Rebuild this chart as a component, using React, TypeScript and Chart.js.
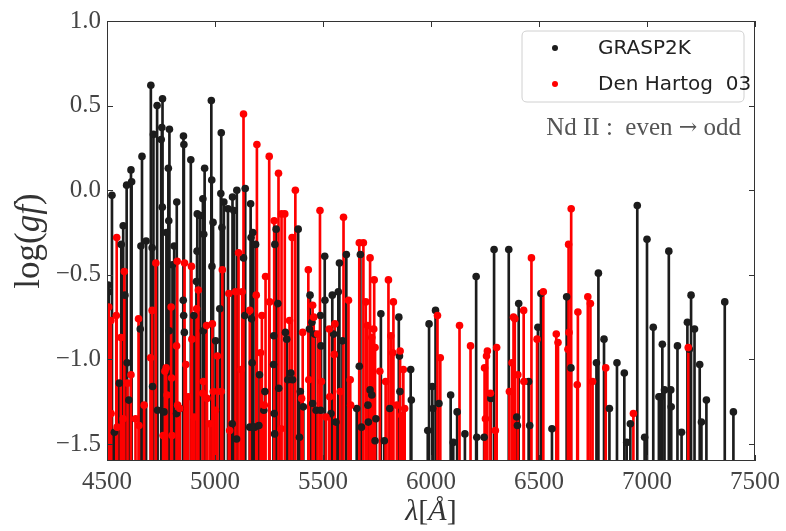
import { useEffect, useRef } from 'react';
import { Chart, registerables } from 'chart.js';

Chart.register(...registerables);

const X_MIN = 4500;
const X_MAX = 7500;
const Y_MIN = -1.6;
const Y_MAX = 1.0;
const xTickValues = [4500, 5000, 5500, 6000, 6500, 7000, 7500];
const yTickValues = [-1.5, -1.0, -0.5, 0.0, 0.5, 1.0];
const seriesLabels = ['GRASP2K', 'Den Hartog  03'];
const annotationParts = ['Nd II :  even ', '\u2192', ' odd'];

const graspWavelength = [
  4505, 4508, 4523, 4534, 4557, 4566, 4575, 4583, 4591, 4593, 4601, 4611, 4614, 4654, 4657, 4662,
  4681, 4703, 4709, 4711, 4715, 4732, 4734, 4751, 4754, 4756, 4757, 4764, 4775, 4784, 4786, 4788,
  4789, 4803, 4811, 4822, 4823, 4838, 4853, 4854, 4855, 4856, 4858, 4888, 4902, 4914, 4917, 4918,
  4931, 4944, 4946, 4948, 4952, 4983, 4985, 4986, 4991, 5003, 5022, 5027, 5029, 5032, 5041, 5060,
  5080, 5081, 5087, 5100, 5101, 5132, 5138, 5140, 5161, 5165, 5167, 5169, 5172, 5175, 5177, 5184,
  5188, 5203, 5206, 5226, 5231, 5271, 5272, 5274, 5276, 5277, 5283, 5291, 5295, 5326, 5332, 5337,
  5351, 5359, 5385, 5391, 5395, 5409, 5437, 5440, 5449, 5452, 5461, 5468, 5488, 5489, 5491, 5508,
  5509, 5537, 5543, 5549, 5560, 5571, 5576, 5590, 5608, 5656, 5668, 5673, 5678, 5708, 5710, 5718,
  5726, 5741, 5745, 5768, 5784, 5809, 5851, 5854, 5856, 5906, 5909, 5985, 5991, 6006, 6008, 6021,
  6037, 6091, 6103, 6121, 6157, 6209, 6212, 6246, 6277, 6292, 6360, 6397, 6400, 6406, 6452, 6457,
  6495, 6509, 6560, 6628, 6648, 6766, 6775, 6801, 6826, 6861, 6895, 6906, 6923, 6955, 6989, 7000,
  7029, 7055, 7064, 7071, 7081, 7101, 7110, 7112, 7141, 7160, 7187, 7196, 7204, 7220, 7244, 7252,
  7275, 7360, 7400,
];
const graspLogGf = [
  -0.56, -0.6, -0.03, -1.43, -1.14, -0.32, -0.21, -0.62, 0.03, -1.02, -1.24, 0.12, 0.05, -0.82, -0.33, 0.2,
  -0.3, 0.62, -0.34, -1.16, 0.33, 0.5, -1.3, 0.3, 0.37, -0.1, 0.54, -1.31, -0.25, 0.13, -0.18, -0.83,
  0.36, -0.44, -0.33, -1.32, -0.07, -1.29, -0.65, 0.32, -0.74, 0.27, -0.84, 0.18, -0.74, -0.54, -0.36, -0.14,
  -0.15, -0.05, -0.83, -0.26, 0.13, 0.53, 0.06, -0.45, -0.19, -0.89, -0.7, -0.02, 0.34, -0.22, -0.07, -0.11,
  -1.38, -0.04, -0.12, -1.47, 0.0, -0.4, -0.74, 0.01, -1.4, -0.08, -0.28, -0.76, -1.02, -0.25, -1.4, -1.4,
  -0.32, -1.39, -1.09, -1.3, -1.19, -1.03, -0.86, -1.32, -1.44, -0.32, -0.23, -0.67, -1.17, -0.84, -0.88, -1.12,
  -1.08, -1.12, -0.23, -1.46, -1.19, -1.28, -0.82, -0.62, -0.78, -1.26, -0.85, -1.3, -0.74, -1.3, -0.92, -0.39,
  -0.65, -1.32, -0.62, -0.85, -1.37, -0.6, -0.43, -0.89, -0.38, -1.29, -1.04, -0.38, -1.4, -1.27, -1.37, -1.18,
  -1.21, -1.48, -1.35, -0.73, -1.48, -1.29, -0.75, -0.98, -1.19, -1.06, -1.24, -1.42, -0.79, -1.16, -1.29, -0.71,
  -1.26, -1.21, -1.49, -1.31, -1.44, -0.51, -1.46, -1.46, -1.23, -0.35, -0.35, -1.34, -1.39, -0.67, -1.13, -1.39,
  -0.81, -0.61, -1.41, -0.63, -1.05, -1.02, -0.49, -0.88, -1.29, -1.02, -1.08, -1.49, -1.38, -0.09, -1.46, -0.29,
  -0.81, -1.22, -1.22, -0.91, -1.18, -0.36, -1.18, -1.28, -0.92, -1.43, -0.78, -0.94, -0.62, -0.82, -1.03, -1.37,
  -1.24, -0.66, -1.31,
];

const hartogWavelength = [
  4508, 4518, 4519, 4543, 4545, 4547, 4564, 4575, 4580, 4595, 4611, 4632, 4646, 4648, 4672, 4702,
  4709, 4726, 4760, 4768, 4774, 4778, 4797, 4799, 4801, 4822, 4825, 4827, 4837, 4859, 4865, 4876,
  4891, 4893, 4903, 4915, 4923, 4943, 4946, 4961, 4963, 4975, 4988, 4992, 5002, 5011, 5029, 5034,
  5064, 5068, 5095, 5109, 5121, 5126, 5132, 5161, 5191, 5194, 5211, 5217, 5228, 5234, 5251, 5253,
  5274, 5294, 5306, 5308, 5323, 5345, 5357, 5372, 5401, 5406, 5432, 5434, 5452, 5457, 5475, 5486,
  5493, 5514, 5529, 5531, 5552, 5555, 5580, 5595, 5618, 5626, 5628, 5668, 5687, 5698, 5706, 5718,
  5726, 5735, 5737, 5741, 5763, 5790, 5803, 5814, 5823, 5826, 5842, 5857, 5864, 5872, 5878, 6030,
  6043, 6132, 6183, 6248, 6252, 6257, 6261, 6275, 6298, 6304, 6363, 6375, 6382, 6388, 6402, 6429,
  6430, 6465, 6491, 6520, 6580, 6588, 6634, 6637, 6639, 6649, 6677, 6680, 6726, 6738, 6748, 6809,
  6937, 7191,
];
const hartogLogGf = [
  -0.69, -0.77, -1.32, -0.74, -0.28, -1.4, -0.87, -1.35, -0.48, -1.14, -1.09, -1.35, -0.76, -1.39, -1.27, -0.99,
  -0.71, -0.43, -1.45, -1.07, -1.05, -1.21, -0.69, -1.11, -1.45, -0.92, -0.42, -1.27, -1.29, -0.43, -1.03, -1.22,
  -0.45, -0.88, -1.34, -0.7, -0.59, -1.2, -1.13, -0.8, -1.23, -1.38, -0.79, -1.19, -1.3, -0.98, -1.19, -0.47,
  -0.61, -1.42, -0.6, -0.37, -1.06, -0.6, 0.45, -0.71, -0.62, 0.27, -0.96, -0.74, -1.27, -0.51, 0.2, -0.66,
  -0.18, 0.1, -1.41, -0.14, -0.14, -0.77, -0.28, 0.0, -1.23, -0.84, -0.47, -1.12, -0.68, -0.75, -0.85, -0.12,
  -1.13, -1.34, -0.82, -1.22, -0.97, -0.79, -1.19, -0.16, -0.65, -1.12, -1.27, -0.31, -0.31, -0.66, -0.8, -0.4,
  -0.87, -0.82, -0.53, -0.93, -1.07, -1.13, -0.53, -0.86, -0.96, -0.66, -1.27, -0.95, -1.33, -1.06, -1.29, -0.74,
  -0.99, -0.8, -0.92, -1.05, -1.35, -0.98, -0.95, -1.2, -1.42, -0.93, -1.19, -1.02, -0.75, -0.76, -1.09, -0.71,
  -1.13, -0.4, -0.88, -0.6, -0.85, -0.9, -0.94, -0.32, -0.84, -0.11, -1.15, -0.72, -0.63, -0.67, -1.13, -1.05,
  -1.32, -0.93,
];

const BLACK = '#1c1c1c';
const RED = '#ff0000';
const SERIF = '"Liberation Serif", "DejaVu Serif", serif';
const SANS = '"DejaVu Sans", sans-serif';

type Part = { text: string; italic?: boolean; family?: string; size?: number };

function drawParts(
  ctx: CanvasRenderingContext2D,
  parts: Part[],
  size: number,
  x0: number,
  cy: number,
  align: 'center' | 'right' = 'center'
) {
  const fontFor = (p: Part) => `${p.italic ? 'italic ' : ''}${p.size ?? size}px ${p.family ?? SERIF}`;
  let total = 0;
  const widths = parts.map((p) => {
    ctx.font = fontFor(p);
    const w = ctx.measureText(p.text).width;
    total += w;
    return w;
  });
  let x = align === 'center' ? x0 - total / 2 : x0 - total;
  ctx.textAlign = 'left';
  ctx.textBaseline = 'middle';
  parts.forEach((p, i) => {
    ctx.font = fontFor(p);
    ctx.fillText(p.text, x, cy);
    x += widths[i];
  });
}

const decorPlugin = {
  id: 'decor',
  afterDraw(chart: any) {
    const { ctx, chartArea, scales } = chart;
    const { left, right, top, bottom } = chartArea;
    ctx.save();
    // frame
    ctx.strokeStyle = '#333333';
    ctx.lineWidth = 1;
    ctx.strokeRect(Math.round(left) + 0.5, Math.round(top) + 0.5, Math.round(right - left) - 1, Math.round(bottom - top) - 1);
    // inward ticks
    const tl = 6;
    ctx.beginPath();
    xTickValues.forEach((v) => {
      const px = Math.round(scales.x.getPixelForValue(v)) + 0.5;
      ctx.moveTo(px, bottom);
      ctx.lineTo(px, bottom - tl);
      ctx.moveTo(px, top);
      ctx.lineTo(px, top + tl);
    });
    yTickValues.forEach((v) => {
      const py = Math.round(scales.y.getPixelForValue(v)) + 0.5;
      ctx.moveTo(left, py);
      ctx.lineTo(left + tl, py);
      ctx.moveTo(right, py);
      ctx.lineTo(right - tl, py);
    });
    ctx.stroke();

    // legend box
    const bx = 522, by = 31, bw = 222, bh = 71, r = 5;
    ctx.beginPath();
    ctx.moveTo(bx + r, by);
    ctx.lineTo(bx + bw - r, by);
    ctx.quadraticCurveTo(bx + bw, by, bx + bw, by + r);
    ctx.lineTo(bx + bw, by + bh - r);
    ctx.quadraticCurveTo(bx + bw, by + bh, bx + bw - r, by + bh);
    ctx.lineTo(bx + r, by + bh);
    ctx.quadraticCurveTo(bx, by + bh, bx, by + bh - r);
    ctx.lineTo(bx, by + r);
    ctx.quadraticCurveTo(bx, by, bx + r, by);
    ctx.closePath();
    ctx.fillStyle = 'rgba(255,255,255,0.85)';
    ctx.fill();
    ctx.strokeStyle = '#d0d0d0';
    ctx.stroke();
    const colors = [BLACK, RED];
    const rows = [48, 84];
    seriesLabels.forEach((label, i) => {
      ctx.fillStyle = colors[i];
      ctx.beginPath();
      ctx.arc(555, rows[i], 3, 0, Math.PI * 2);
      ctx.fill();
      ctx.fillStyle = '#222222';
      ctx.font = `20px ${SANS}`;
      ctx.textAlign = 'left';
      ctx.textBaseline = 'middle';
      ctx.fillText(label, 598, rows[i] + 1);
    });

    // annotation
    ctx.fillStyle = '#555555';
    drawParts(
      ctx,
      [
        { text: annotationParts[0] },
        { text: annotationParts[1], family: '"DejaVu Serif", serif', size: 22 },
        { text: annotationParts[2] },
      ],
      25,
      741,
      128,
      'right'
    );

    // axis titles
    ctx.fillStyle = '#333333';
    drawParts(ctx, [{ text: '\u03bb', italic: true }, { text: '[' }, { text: '\u00c5', italic: true }, { text: ']' }], 30, (left + right) / 2, 512);
    ctx.save();
    ctx.translate(30, 241);
    ctx.rotate(-Math.PI / 2);
    drawParts(ctx, [{ text: 'log(' }, { text: 'gf', italic: true }, { text: ')' }], 35, 0, 0);
    ctx.restore();
    ctx.restore();
  },
};

export default function App() {
  const ref = useRef<HTMLCanvasElement | null>(null);
  useEffect(() => {
    if (!ref.current) return;
    const stem = (xs: number[], ys: number[]) => xs.map((x, i) => ({ x, y: [Y_MIN, ys[i]] }));
    const pts = (xs: number[], ys: number[]) => xs.map((x, i) => ({ x, y: ys[i] }));
    const tickFont = { family: SERIF, size: 25 };
    const chart = new Chart(ref.current, {
      type: 'bar',
      data: {
        datasets: [
          {
            type: 'bar',
            label: seriesLabels[0] + ' stems',
            data: stem(graspWavelength, graspLogGf) as any,
            backgroundColor: BLACK,
            borderWidth: 0,
            barThickness: 2,
            grouped: false,
            order: 4,
            clip: 0,
          } as any,
          {
            type: 'bar',
            label: seriesLabels[1] + ' stems',
            data: stem(hartogWavelength, hartogLogGf) as any,
            backgroundColor: RED,
            borderWidth: 0,
            barThickness: 2,
            grouped: false,
            order: 3,
            clip: 0,
          } as any,
          {
            type: 'scatter',
            label: seriesLabels[0],
            data: pts(graspWavelength, graspLogGf),
            backgroundColor: BLACK,
            borderWidth: 0,
            pointRadius: 3.8,
            showLine: false,
            order: 2,
          } as any,
          {
            type: 'scatter',
            label: seriesLabels[1],
            data: pts(hartogWavelength, hartogLogGf),
            backgroundColor: RED,
            borderWidth: 0,
            pointRadius: 3.8,
            showLine: false,
            order: 1,
          } as any,
        ],
      },
      options: {
        responsive: false,
        animation: false,
        events: [],
        layout: { padding: { top: 18, right: 29, left: 0, bottom: 0 } },
        plugins: { legend: { display: false }, tooltip: { enabled: false } },
        scales: {
          x: {
            type: 'linear',
            min: X_MIN,
            max: X_MAX,
            offset: false,
            grid: { display: false, drawTicks: false },
            border: { display: false },
            afterBuildTicks: (s: any) => {
              s.ticks = xTickValues.map((value) => ({ value }));
            },
            ticks: {
              font: tickFont,
              color: '#444444',
              padding: 6,
              maxRotation: 0,
              autoSkip: false,
              callback: (v: any) => String(v),
            },
            afterFit: (s: any) => {
              s.height = 70;
            },
          },
          y: {
            type: 'linear',
            min: Y_MIN,
            max: Y_MAX,
            grid: { display: false, drawTicks: false },
            border: { display: false },
            afterBuildTicks: (s: any) => {
              s.ticks = yTickValues.map((value) => ({ value }));
            },
            ticks: {
              font: tickFont,
              color: '#444444',
              padding: 6,
              callback: (v: any) => (v < 0 ? '\u2212' : '') + Math.abs(Number(v)).toFixed(1),
            },
            afterFit: (s: any) => {
              s.width = 107;
            },
          },
        },
      } as any,
      plugins: [decorPlugin],
    });
    return () => chart.destroy();
  }, []);
  return (
    <div style={{ position: 'absolute', left: 0, top: 0, width: 786, height: 531, background: '#fff' }}>
      <canvas ref={ref} width={786} height={531} style={{ display: 'block' }} />
    </div>
  );
}
